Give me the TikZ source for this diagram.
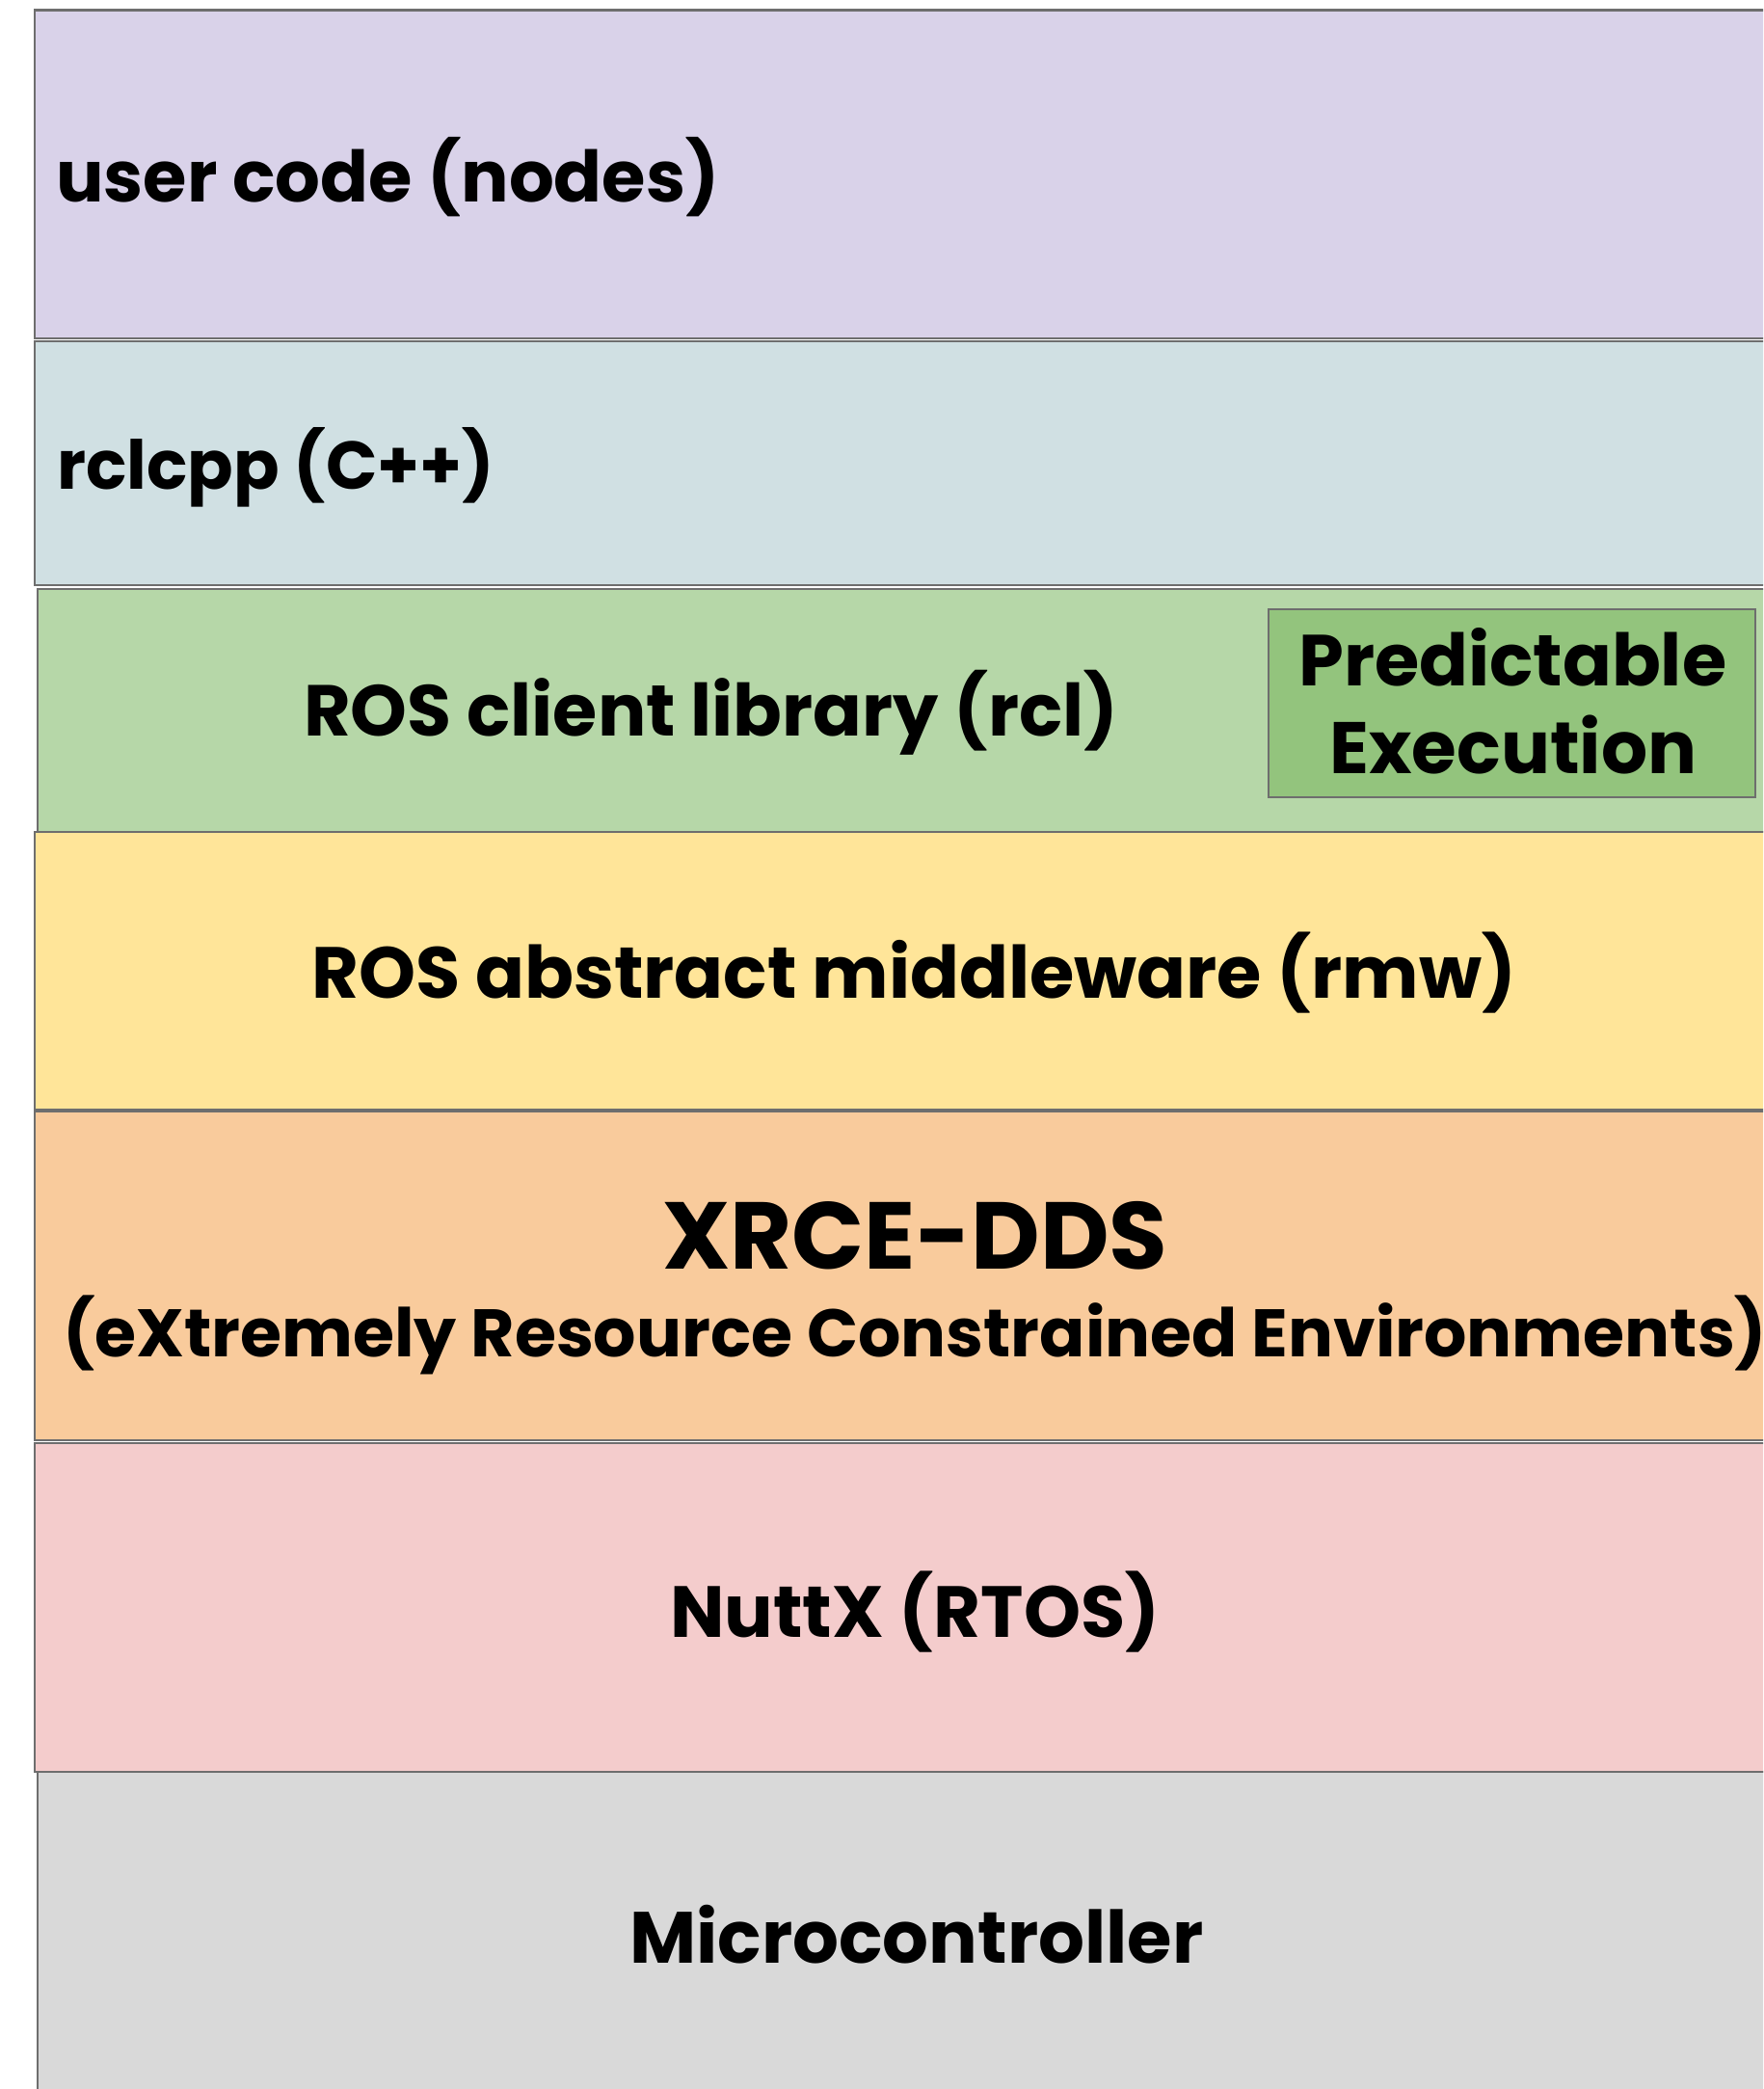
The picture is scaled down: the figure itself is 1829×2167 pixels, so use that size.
\documentclass[tikz,border=0pt]{standalone}
\usepackage{fontspec}
\setmainfont{Poppins}
\usepackage{graphicx}
\definecolor{cborder}{HTML}{6E6E6E}
\definecolor{cuser}{HTML}{D9D2E9}
\definecolor{crclcpp}{HTML}{D0E0E3}
\definecolor{crcl}{HTML}{B6D7A8}
\definecolor{cpred}{HTML}{93C47D}
\definecolor{crmw}{HTML}{FFE599}
\definecolor{cxrce}{HTML}{F9CB9C}
\definecolor{cnuttx}{HTML}{F4CCCC}
\definecolor{cmicro}{HTML}{D9D9D9}
\newcommand\fitw[2]{\resizebox{#1pt}{!}{#2}}
\begin{document}
\begin{tikzpicture}[x=1pt,y=-1pt,
  layer/.style={draw=cborder, line width=2.5pt},
  lbl/.style={inner sep=0pt, anchor=base west, font=\bfseries\fontsize{75}{80}\selectfont}]
\useasboundingbox (0,0) rectangle (1829,2167);
\clip (0,0) rectangle (1829,2167);
% layers
\draw[layer, fill=cuser]   (36,10.5) rectangle (1862,351);
\draw[layer, fill=crclcpp] (36,354) rectangle (1862,607);
\draw[layer, fill=crcl]    (39,611) rectangle (1862,863);
\draw[layer, fill=crmw]    (36,863) rectangle (1862,1151);
\draw[layer, fill=cxrce]   (36,1153) rectangle (1862,1494);
\draw[layer, fill=cnuttx]  (36,1497) rectangle (1862,1838);
\draw[layer, fill=cmicro]  (39,1838) rectangle (1862,2200);
\draw[layer, line width=2pt, fill=cpred] (1316,632) rectangle (1821,827);
% labels
\node[lbl] (user) at (58,210) {\fitw{688}{user code (nodes)}};
\node[lbl] (rclcpp) at (59,507) {\fitw{454}{rclcpp (C++)}};
\node[lbl] (rcl) at (315,763) {\fitw{845}{ROS client library (rcl)}};
\node[lbl] (pred1) at (1347,711) {\fitw{444}{Predictable}};
\node[lbl] (pred2) at (1379,802) {\fitw{381}{Execution}};
\node[lbl] (rmw) at (323,1035) {\fitw{1250}{ROS abstract middleware (rmw)}};
\node[lbl] (xrce) at (687,1316) {\fitw{524}{XRCE-DDS}};
\node[lbl] (xrcesub) at (65,1407) {\fitw{1768}{(eXtremely Resource Constrained Environments)}};
\node[lbl] (nuttx) at (695,1698) {\fitw{508}{NuttX (RTOS)}};
\node[lbl] (micro) at (653,2036) {\fitw{595}{Microcontroller}};
\end{tikzpicture}
\end{document}
